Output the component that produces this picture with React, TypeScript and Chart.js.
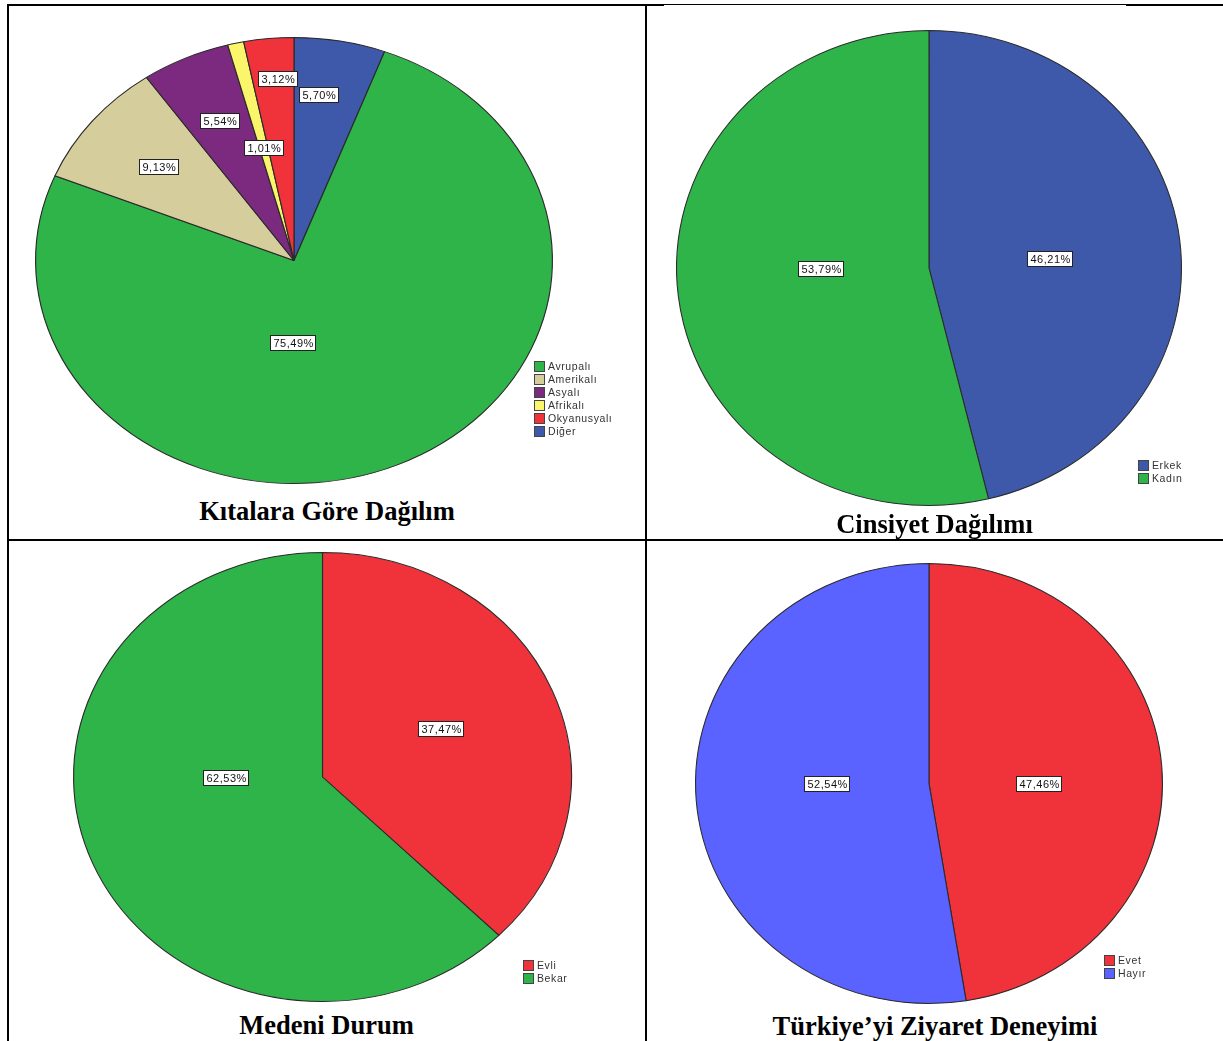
import React, { useEffect, useRef } from "react";
import { Chart, registerables } from "chart.js";

Chart.register(...registerables);

// ---------- DATA ----------
const kitaCategories = ["Diğer", "Avrupalı", "Amerikalı", "Asyalı", "Afrikalı", "Okyanusyalı"];
const kitaValues = [5.7, 75.49, 9.13, 5.54, 1.01, 3.12];
const kitaLegend = ["Avrupalı", "Amerikalı", "Asyalı", "Afrikalı", "Okyanusyalı", "Diğer"];

const cinsiyetCategories = ["Erkek", "Kadın"];
const cinsiyetValues = [46.21, 53.79];
const cinsiyetLegend = ["Erkek", "Kadın"];

const medeniCategories = ["Evli", "Bekar"];
const medeniValues = [37.47, 62.53];
const medeniLegend = ["Evli", "Bekar"];

const ziyaretCategories = ["Evet", "Hayır"];
const ziyaretValues = [47.46, 52.54];
const ziyaretLegend = ["Evet", "Hayır"];

const titles = ["Kıtalara Göre Dağılım", "Cinsiyet Dağılımı", "Medeni Durum", "Türkiye’yi Ziyaret Deneyimi"];

// ---------- STYLES ----------
const COLORS: Record<string, string> = {
  "Avrupalı": "#2fb44a",
  "Amerikalı": "#d5cd9b",
  "Asyalı": "#7b2a7f",
  "Afrikalı": "#fbf56c",
  "Okyanusyalı": "#f0323b",
  "Diğer": "#3e58aa",
  "Erkek": "#3e58aa",
  "Kadın": "#2fb44a",
  "Evli": "#f0323b",
  "Bekar": "#2fb44a",
  "Evet": "#f0323b",
  "Hayır": "#5a62ff",
};

type Spec = {
  labels: string[];
  values: number[];
  legend: string[];
  title: string;
  cx: number; cy: number; rx: number; ry: number;
  labelRadius: number[];
  labelAngle: (number | null)[];
  legendLeft: number; legendTop: number;
  titleCx: number; titleCy: number;
};

const specs: Spec[] = [
  {
    labels: kitaCategories, values: kitaValues, legend: kitaLegend, title: titles[0],
    cx: 294, cy: 260.5, rx: 259, ry: 223.5,
    labelRadius: [0.75, 0.37, 0.67, 0.69, 0.52, 0.82],
    labelAngle: [7.4, 181, null, null, null, 355.4],
    legendLeft: 534, legendTop: 360, titleCx: 327, titleCy: 511,
  },
  {
    labels: cinsiyetCategories, values: cinsiyetValues, legend: cinsiyetLegend, title: titles[1],
    cx: 929, cy: 268, rx: 253, ry: 238,
    labelRadius: [0.48, 0.43],
    labelAngle: [85, 269.5],
    legendLeft: 1138, legendTop: 459, titleCx: 934.5, titleCy: 524,
  },
  {
    labels: medeniCategories, values: medeniValues, legend: medeniLegend, title: titles[2],
    cx: 322.5, cy: 777, rx: 249.5, ry: 225,
    labelRadius: [0.52, 0.39],
    labelAngle: [65.7, 269.5],
    legendLeft: 523, legendTop: 959, titleCx: 326.5, titleCy: 1025,
  },
  {
    labels: ziyaretCategories, values: ziyaretValues, legend: ziyaretLegend, title: titles[3],
    cx: 929, cy: 783.5, rx: 234, ry: 220.5,
    labelRadius: [0.47, 0.44],
    labelAngle: [90, 270],
    legendLeft: 1104, legendTop: 954, titleCx: 935, titleCy: 1026,
  },
];

const PAD = 6;

function PieCell({ spec }: { spec: Spec }) {
  const ref = useRef<HTMLCanvasElement | null>(null);
  const W = Math.round(2 * spec.rx + 2 * PAD);
  const H = Math.round(2 * spec.ry + 2 * PAD);
  const sx = spec.rx / spec.ry;

  useEffect(() => {
    if (!ref.current) return;
    const ellipse = {
      id: "ellipse",
      beforeDatasetsDraw(chart: any) {
        const arc = chart.getDatasetMeta(0).data[0];
        const ctx = chart.ctx;
        ctx.save();
        ctx.translate(arc.x, arc.y);
        ctx.scale(sx, 1);
        ctx.translate(-arc.x, -arc.y);
      },
      afterDatasetsDraw(chart: any) {
        const ctx = chart.ctx;
        ctx.restore();
        const meta = chart.getDatasetMeta(0);
        const data = chart.data.datasets[0].data as number[];
        ctx.save();
        ctx.font = '11px "Liberation Sans", Arial, sans-serif';
        (ctx as any).letterSpacing = "0.5px";
        ctx.textAlign = "left";
        ctx.textBaseline = "middle";
        meta.data.forEach((arc: any, i: number) => {
          const p = arc.getProps(["x", "y", "startAngle", "endAngle", "outerRadius"], true);
          const ov = spec.labelAngle[i];
          const ang = ov == null ? (p.startAngle + p.endAngle) / 2 : ((ov - 90) * Math.PI) / 180;
          const r = spec.labelRadius[i] * p.outerRadius;
          const lx = p.x + Math.cos(ang) * r * sx;
          const ly = p.y + Math.sin(ang) * r;
          const text = data[i].toFixed(2).replace(".", ",") + "%";
          const tw = ctx.measureText(text).width;
          const w = Math.round(tw + 5);
          const h = 15;
          const bx = Math.round(lx - w / 2) + 0.5;
          const by = Math.round(ly - h / 2) + 0.5;
          ctx.fillStyle = "#ffffff";
          ctx.fillRect(bx, by, w, h);
          ctx.strokeStyle = "#222222";
          ctx.lineWidth = 1;
          ctx.strokeRect(bx, by, w, h);
          ctx.fillStyle = "#111111";
          ctx.fillText(text, bx + 3, by + h / 2 + 0.5);
        });
        ctx.restore();
      },
    };
    const chart = new Chart(ref.current, {
      type: "pie",
      data: {
        labels: spec.labels,
        datasets: [
          {
            data: spec.values,
            backgroundColor: spec.labels.map((l) => COLORS[l]),
            borderColor: "#2a2a2a",
            borderWidth: 1,
          },
        ],
      },
      options: {
        responsive: false,
        animation: false,
        rotation: 0,
        layout: { padding: PAD },
        plugins: {
          legend: { display: false },
          tooltip: { enabled: false },
          title: { display: false },
        },
      },
      plugins: [ellipse],
    });
    return () => chart.destroy();
  }, []);

  return (
    <>
      <canvas
        ref={ref}
        width={W}
        height={H}
        style={{
          position: "absolute",
          left: Math.round(spec.cx - W / 2),
          top: Math.round(spec.cy - H / 2),
          width: W,
          height: H,
        }}
      />
      <div
        style={{
          position: "absolute",
          left: spec.legendLeft,
          top: spec.legendTop,
          fontFamily: '"Liberation Sans", Arial, sans-serif',
          fontSize: 10.5,
          letterSpacing: "0.6px",
          color: "#333",
          lineHeight: "13px",
        }}
      >
        {spec.legend.map((l) => (
          <div key={l} style={{ display: "flex", alignItems: "center", height: 13 }}>
            <span
              style={{
                display: "inline-block",
                width: 9,
                height: 9,
                background: COLORS[l],
                border: "1px solid #444",
                marginRight: 3,
              }}
            />
            <span>{l}</span>
          </div>
        ))}
      </div>
      <div
        style={{
          position: "absolute",
          left: spec.titleCx - 250,
          width: 500,
          top: spec.titleCy - 15,
          height: 30,
          lineHeight: "30px",
          textAlign: "center",
          fontFamily: '"Liberation Serif", "Times New Roman", serif',
          fontWeight: "bold",
          fontSize: 26.5,
          color: "#000",
          whiteSpace: "nowrap",
        }}
      >
        {spec.title}
      </div>
    </>
  );
}

export default function App() {
  const line = (l: number, t: number, w: number, h: number) => ({
    position: "absolute" as const, left: l, top: t, width: w, height: h, background: "#000",
  });
  return (
    <div
      style={{
        position: "fixed",
        left: 0,
        top: 0,
        width: 1223,
        height: 1041,
        overflow: "hidden",
        background: "#fff",
      }}
    >
      {specs.map((s, i) => (
        <PieCell key={i} spec={s} />
      ))}
      <div style={line(7, 4, 657, 2)} />
      <div style={line(664, 4, 462, 1)} />
      <div style={line(1126, 4, 97, 2)} />
      <div style={line(7, 4, 2, 1037)} />
      <div style={line(645, 4, 2, 1037)} />
      <div style={line(7, 539, 1216, 2)} />
    </div>
  );
}
